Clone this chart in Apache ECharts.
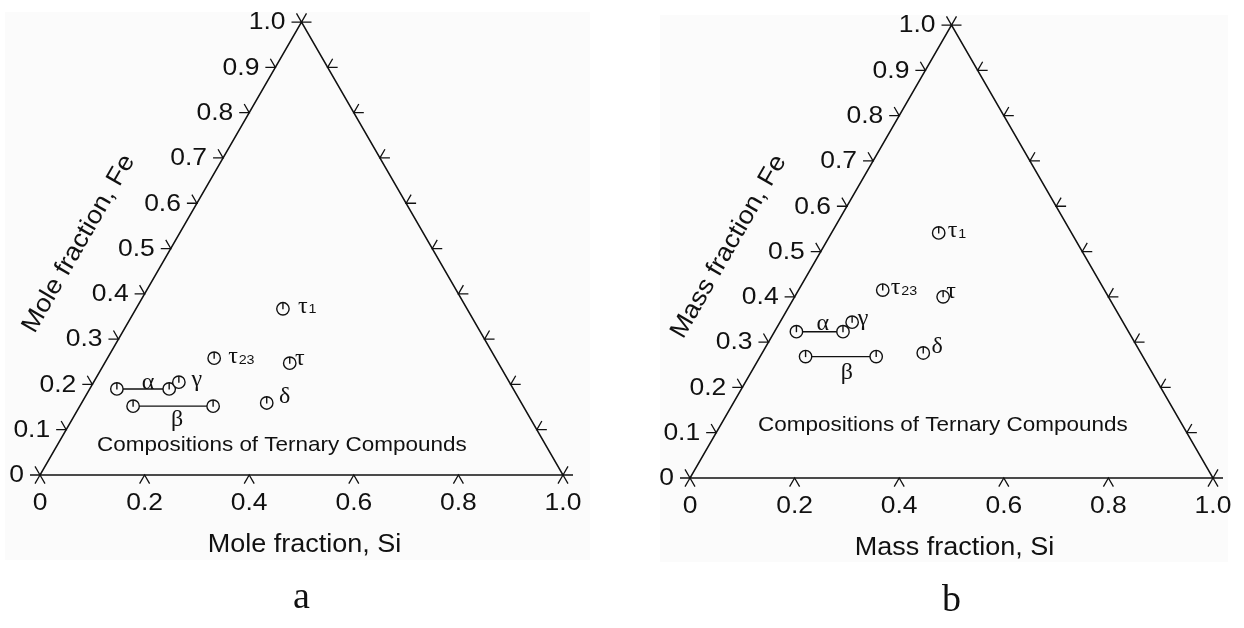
<!DOCTYPE html>
<html>
<head>
<meta charset="utf-8">
<script src="https://cdn.jsdelivr.net/npm/echarts@6/dist/echarts.min.js"></script>
<style>
  html, body { margin: 0; padding: 0; background: #ffffff; }
  #chart { width: 1244px; height: 628px; }
</style>
</head>
<body>
<div id="chart"></div>
<script>
// Ternary compounds of the Al–Fe–Si system, plotted on two composition triangles
// (a: mole fraction, b: mass fraction). The third component is the remainder.

// Fe axis (left edge, ticks repeated on the right edge)
const feTicks = [0, 0.1, 0.2, 0.3, 0.4, 0.5, 0.6, 0.7, 0.8, 0.9, 1.0];
const feTickLabels = ['0', '0.1', '0.2', '0.3', '0.4', '0.5', '0.6', '0.7', '0.8', '0.9', '1.0'];
// Si axis (base)
const siTicks = [0, 0.2, 0.4, 0.6, 0.8, 1.0];
const siTickLabels = ['0', '0.2', '0.4', '0.6', '0.8', '1.0'];

// Phases: symbol and subscript
const phaseNames = ['α', 'β', 'γ', 'δ', 'τ', 'τ', 'τ'];
const phaseSubscripts = ['', '', '', '', '', '1', '23'];

// Mole fractions (Si range low..high, Fe)
const moleSiLow  = [0.052, 0.102, 0.163, 0.354, 0.354, 0.281, 0.204];
const moleSiHigh = [0.152, 0.255, 0.163, 0.354, 0.354, 0.281, 0.204];
const moleFe     = [0.190, 0.152, 0.205, 0.159, 0.247, 0.367, 0.258];

// Mass fractions (Si range low..high, Fe)
const massSiLow  = [0.042, 0.087, 0.138, 0.308, 0.284, 0.205, 0.161];
const massSiHigh = [0.131, 0.222, 0.138, 0.308, 0.284, 0.205, 0.161];
const massFe     = [0.323, 0.268, 0.344, 0.276, 0.400, 0.541, 0.415];

const noteText = 'Compositions of Ternary Compounds';

const S3 = Math.sqrt(3) / 2;
const tern = (si, fe) => [si + fe / 2, fe * S3];

const INK = '#111111';
const SANS = '"Liberation Sans", Arial, Helvetica, sans-serif';
const SERIF = '"Liberation Serif", "Times New Roman", serif';
const PANEL_BG = '#fbfbfb';
const TICK = 10;

function text(x, y, str, o) {
  const align = o.align || 'center';
  const valign = o.valign || 'middle';
  return {
    type: 'text', x: x, y: y,
    rotation: o.rotation || 0,
    scaleX: o.scaleX || 1,
    style: {
      text: str, x: 0, y: 0, font: o.font, fill: INK,
      textAlign: align, textVerticalAlign: valign,
      align: align, verticalAlign: valign
    }
  };
}

function poly(points, w) {
  return { type: 'polyline', shape: { points: points }, style: { stroke: INK, lineWidth: w || 1.3, fill: null } };
}

function marker(p) {
  const r = 6.2;
  return {
    type: 'group',
    children: [
      { type: 'circle', shape: { cx: p[0], cy: p[1], r: r }, style: { fill: PANEL_BG, stroke: INK, lineWidth: 1.4 } },
      { type: 'line', shape: { x1: p[0], y1: p[1] - r, x2: p[0], y2: p[1] + 0.5 }, style: { stroke: INK, lineWidth: 1.4 } }
    ]
  };
}

const panels = [
  {
    grid: { left: 40, top: 475 - 523 * S3, width: 523, height: 523 * S3 },
    siLow: moleSiLow, siHigh: moleSiHigh, fe: moleFe,
    xTitle: 'Mole fraction, Si', yTitle: 'Mole fraction, Fe', caption: 'a',
    notePos: [0.109, 0.0574],
    labelShift: [[5, -6], [4, 14], [18, -2], [18, -6], [10, -4], [15, -2], [14, -1]]
  },
  {
    grid: { left: 690, top: 478 - 523 * S3, width: 523, height: 523 * S3 },
    siLow: massSiLow, siHigh: massSiHigh, fe: massFe,
    xTitle: 'Mass fraction, Si', yTitle: 'Mass fraction, Fe', caption: 'b',
    notePos: [0.130, 0.101],
    labelShift: [[3, -8], [6, 16], [11, -3], [14, -6], [8, -5], [9, -2], [8, -2]]
  }
];

const series = [];
panels.forEach((pn, g) => {
  const axes = { xAxisIndex: g, yAxisIndex: g, coordinateSystem: 'cartesian2d', silent: true };

  // triangle frame
  series.push(Object.assign({
    type: 'custom', data: [[0]], z: 2,
    renderItem: (params, api) => {
      const a = api.coord(tern(0, 0)), b = api.coord(tern(1, 0)), c = api.coord(tern(0, 1));
      return { type: 'polygon', shape: { points: [a, b, c] }, style: { fill: null, stroke: INK, lineWidth: 1.5 } };
    }
  }, axes));

  // Fe ticks on left and right edges, labels on the left
  series.push(Object.assign({
    type: 'custom', data: feTicks.map((v, k) => [v, k]), z: 2,
    renderItem: (params, api) => {
      const fe = api.value(0), k = api.value(1);
      const L = api.coord(tern(0, fe));
      const R = api.coord(tern(1 - fe, fe));
      return {
        type: 'group',
        children: [
          poly([[L[0] - TICK, L[1]], L, [L[0] - TICK * 0.5, L[1] - TICK * S3]]),
          poly([[R[0] + TICK, R[1]], R, [R[0] + TICK * 0.5, R[1] - TICK * S3]]),
          text(L[0] - 16, L[1] + 1, feTickLabels[k], { font: '23px ' + SANS, align: 'right', scaleX: 1.15 })
        ]
      };
    }
  }, axes));

  // Si ticks on the base
  series.push(Object.assign({
    type: 'custom', data: siTicks.map((v, k) => [v, k]), z: 2,
    renderItem: (params, api) => {
      const si = api.value(0), k = api.value(1);
      const P = api.coord(tern(si, 0));
      return {
        type: 'group',
        children: [
          poly([[P[0] - TICK * 0.5, P[1] + TICK * S3], P, [P[0] + TICK * 0.5, P[1] + TICK * S3]]),
          text(P[0], P[1] + 29, siTickLabels[k], { font: '23px ' + SANS, scaleX: 1.15 })
        ]
      };
    }
  }, axes));

  // axis titles, caption and note
  series.push(Object.assign({
    type: 'custom', data: [[0]], z: 2,
    renderItem: (params, api) => {
      const base = api.coord(tern(0.5, 0));
      const edge = api.coord(tern(0, 0.42));
      const note = api.coord(pn.notePos);
      return {
        type: 'group',
        children: [
          text(base[0] + 3, base[1] + 70, pn.xTitle, { font: '25px ' + SANS, scaleX: 1.08 }),
          text(edge[0] - 82 * S3, edge[1] - 82 * 0.5, pn.yTitle, { font: '25px ' + SANS, scaleX: 1.08, rotation: Math.PI / 3 }),
          text(base[0], base[1] + 123, pn.caption, { font: '38px ' + SERIF }),
          text(note[0], note[1], noteText, { font: '21px ' + SANS, align: 'left', scaleX: 1.07 })
        ]
      };
    }
  }, axes));

  // compounds: homogeneity ranges, markers and labels
  series.push(Object.assign({
    type: 'custom', z: 3,
    data: phaseNames.map((n, i) => [pn.siLow[i], pn.siHigh[i], pn.fe[i]]),
    renderItem: (params, api) => {
      const i = params.dataIndex;
      const lo = api.coord(tern(api.value(0), api.value(2)));
      const hi = api.coord(tern(api.value(1), api.value(2)));
      const isRange = api.value(1) !== api.value(0);
      const children = [];
      if (isRange) {
        children.push({ type: 'line', shape: { x1: lo[0], y1: lo[1], x2: hi[0], y2: hi[1] }, style: { stroke: INK, lineWidth: 1.4 } });
      }
      children.push(marker(lo));
      if (isRange) children.push(marker(hi));
      const sh = pn.labelShift[i];
      const lx = (lo[0] + hi[0]) / 2 + sh[0];
      const ly = (lo[1] + hi[1]) / 2 + sh[1];
      const sub = phaseSubscripts[i];
      if (sub) {
        children.push(text(lx, ly, phaseNames[i], { font: '24px ' + SERIF, align: 'left' }));
        children.push(text(lx + 10.5, ly + 3, sub, { font: '13px ' + SANS, align: 'left', scaleX: 1.1 }));
      } else {
        children.push(text(lx, ly, phaseNames[i], { font: '24px ' + SERIF }));
      }
      return { type: 'group', children: children };
    }
  }, axes));
});

const chart = echarts.init(document.getElementById('chart'), null, { renderer: 'canvas' });
chart.setOption({
  animation: false,
  backgroundColor: '#ffffff',
  graphic: [
    { type: 'rect', shape: { x: 5, y: 12, width: 585, height: 548 }, style: { fill: PANEL_BG }, z: -10, silent: true },
    { type: 'rect', shape: { x: 660, y: 15, width: 568, height: 547 }, style: { fill: PANEL_BG }, z: -10, silent: true }
  ],
  grid: panels.map(p => p.grid),
  xAxis: panels.map((p, i) => ({ type: 'value', gridIndex: i, min: 0, max: 1, show: false })),
  yAxis: panels.map((p, i) => ({ type: 'value', gridIndex: i, min: 0, max: S3, show: false })),
  series: series
});
</script>
</body>
</html>
